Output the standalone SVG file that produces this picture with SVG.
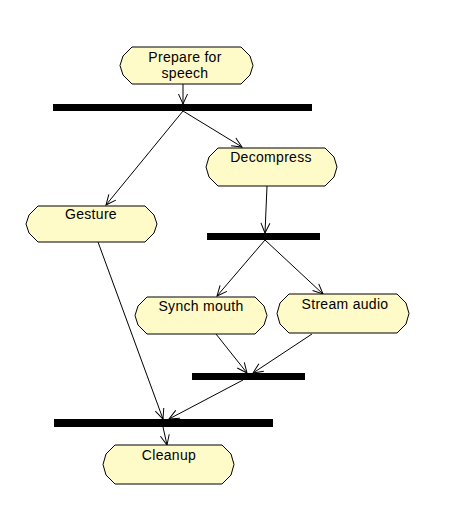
<svg xmlns="http://www.w3.org/2000/svg" width="460" height="508" viewBox="0 0 460 508">
<defs>
<style>
.node{fill:#FFFBC8;stroke:#000;stroke-width:1}
.bar{fill:#000}
.lbl{font-family:"Liberation Sans",Arial,sans-serif;font-size:14px;letter-spacing:0.3px;fill:#000;text-anchor:middle}
.edge{stroke:#000;stroke-width:1;fill:none;marker-end:url(#arr)}
</style>
<marker id="arr" markerUnits="userSpaceOnUse" markerWidth="14" markerHeight="12" refX="11" refY="5" orient="auto" viewBox="0 0 14 10">
<path d="M1,0.5 L11,5 L1,9.5" fill="none" stroke="#000" stroke-width="1"/>
</marker>
</defs>
<rect width="460" height="508" fill="#fff"/>
<g id="edges">
<line class="edge" x1="183" y1="84" x2="183" y2="104"/>
<line class="edge" x1="183" y1="111" x2="242" y2="147"/>
<line class="edge" x1="183" y1="111" x2="106" y2="205"/>
<line class="edge" x1="267" y1="186" x2="265" y2="233"/>
<line class="edge" x1="265" y1="240" x2="217" y2="296"/>
<line class="edge" x1="265" y1="240" x2="323" y2="294"/>
<line class="edge" x1="98" y1="242" x2="163" y2="419"/>
<line class="edge" x1="216" y1="334" x2="247" y2="373"/>
<line class="edge" x1="312" y1="334" x2="253" y2="373"/>
<line class="edge" x1="243" y1="380" x2="169" y2="419"/>
<line class="edge" x1="163" y1="427" x2="167" y2="445"/>
</g>
<g id="prepare">
<polygon class="node" points="132,47 241,47 250,56 253,65.5 250,75 241,84 132,84 123,75 120,65.5 123,56"/>
<text class="lbl" x="185" y="62">Prepare for</text>
<text class="lbl" x="185" y="78">speech</text>
</g>
<g id="bar1"><rect class="bar" x="53" y="104" width="259" height="7"/></g>
<g id="decompress">
<polygon class="node" points="218,148 325,148 334,157 337,167 334,177 325,186 218,186 209,177 206,167 209,157"/>
<text class="lbl" x="271" y="162">Decompress</text>
</g>
<g id="gesture">
<polygon class="node" points="38,206 145,206 154,215 157,224 154,233 145,242 38,242 29,233 26,224 29,215"/>
<text class="lbl" x="91" y="219">Gesture</text>
</g>
<g id="bar2"><rect class="bar" x="207" y="233" width="113" height="7"/></g>
<g id="synch">
<polygon class="node" points="147,297 255,297 264,306 267,315.5 264,325 255,334 147,334 138,325 135,315.5 138,306"/>
<text class="lbl" x="201" y="311">Synch mouth</text>
</g>
<g id="stream">
<polygon class="node" points="289,294 397,294 406,303 409,313.5 406,324 397,333 289,333 280,324 277,313.5 280,303"/>
<text class="lbl" x="345" y="309">Stream audio</text>
</g>
<g id="bar3"><rect class="bar" x="192" y="373" width="113" height="7"/></g>
<g id="bar4"><rect class="bar" x="54" y="419" width="219" height="8"/></g>
<g id="cleanup">
<polygon class="node" points="115,445 222,445 231,454 234,464.5 231,475 222,484 115,484 106,475 103,464.5 106,454"/>
<text class="lbl" x="169" y="460">Cleanup</text>
</g>
</svg>
